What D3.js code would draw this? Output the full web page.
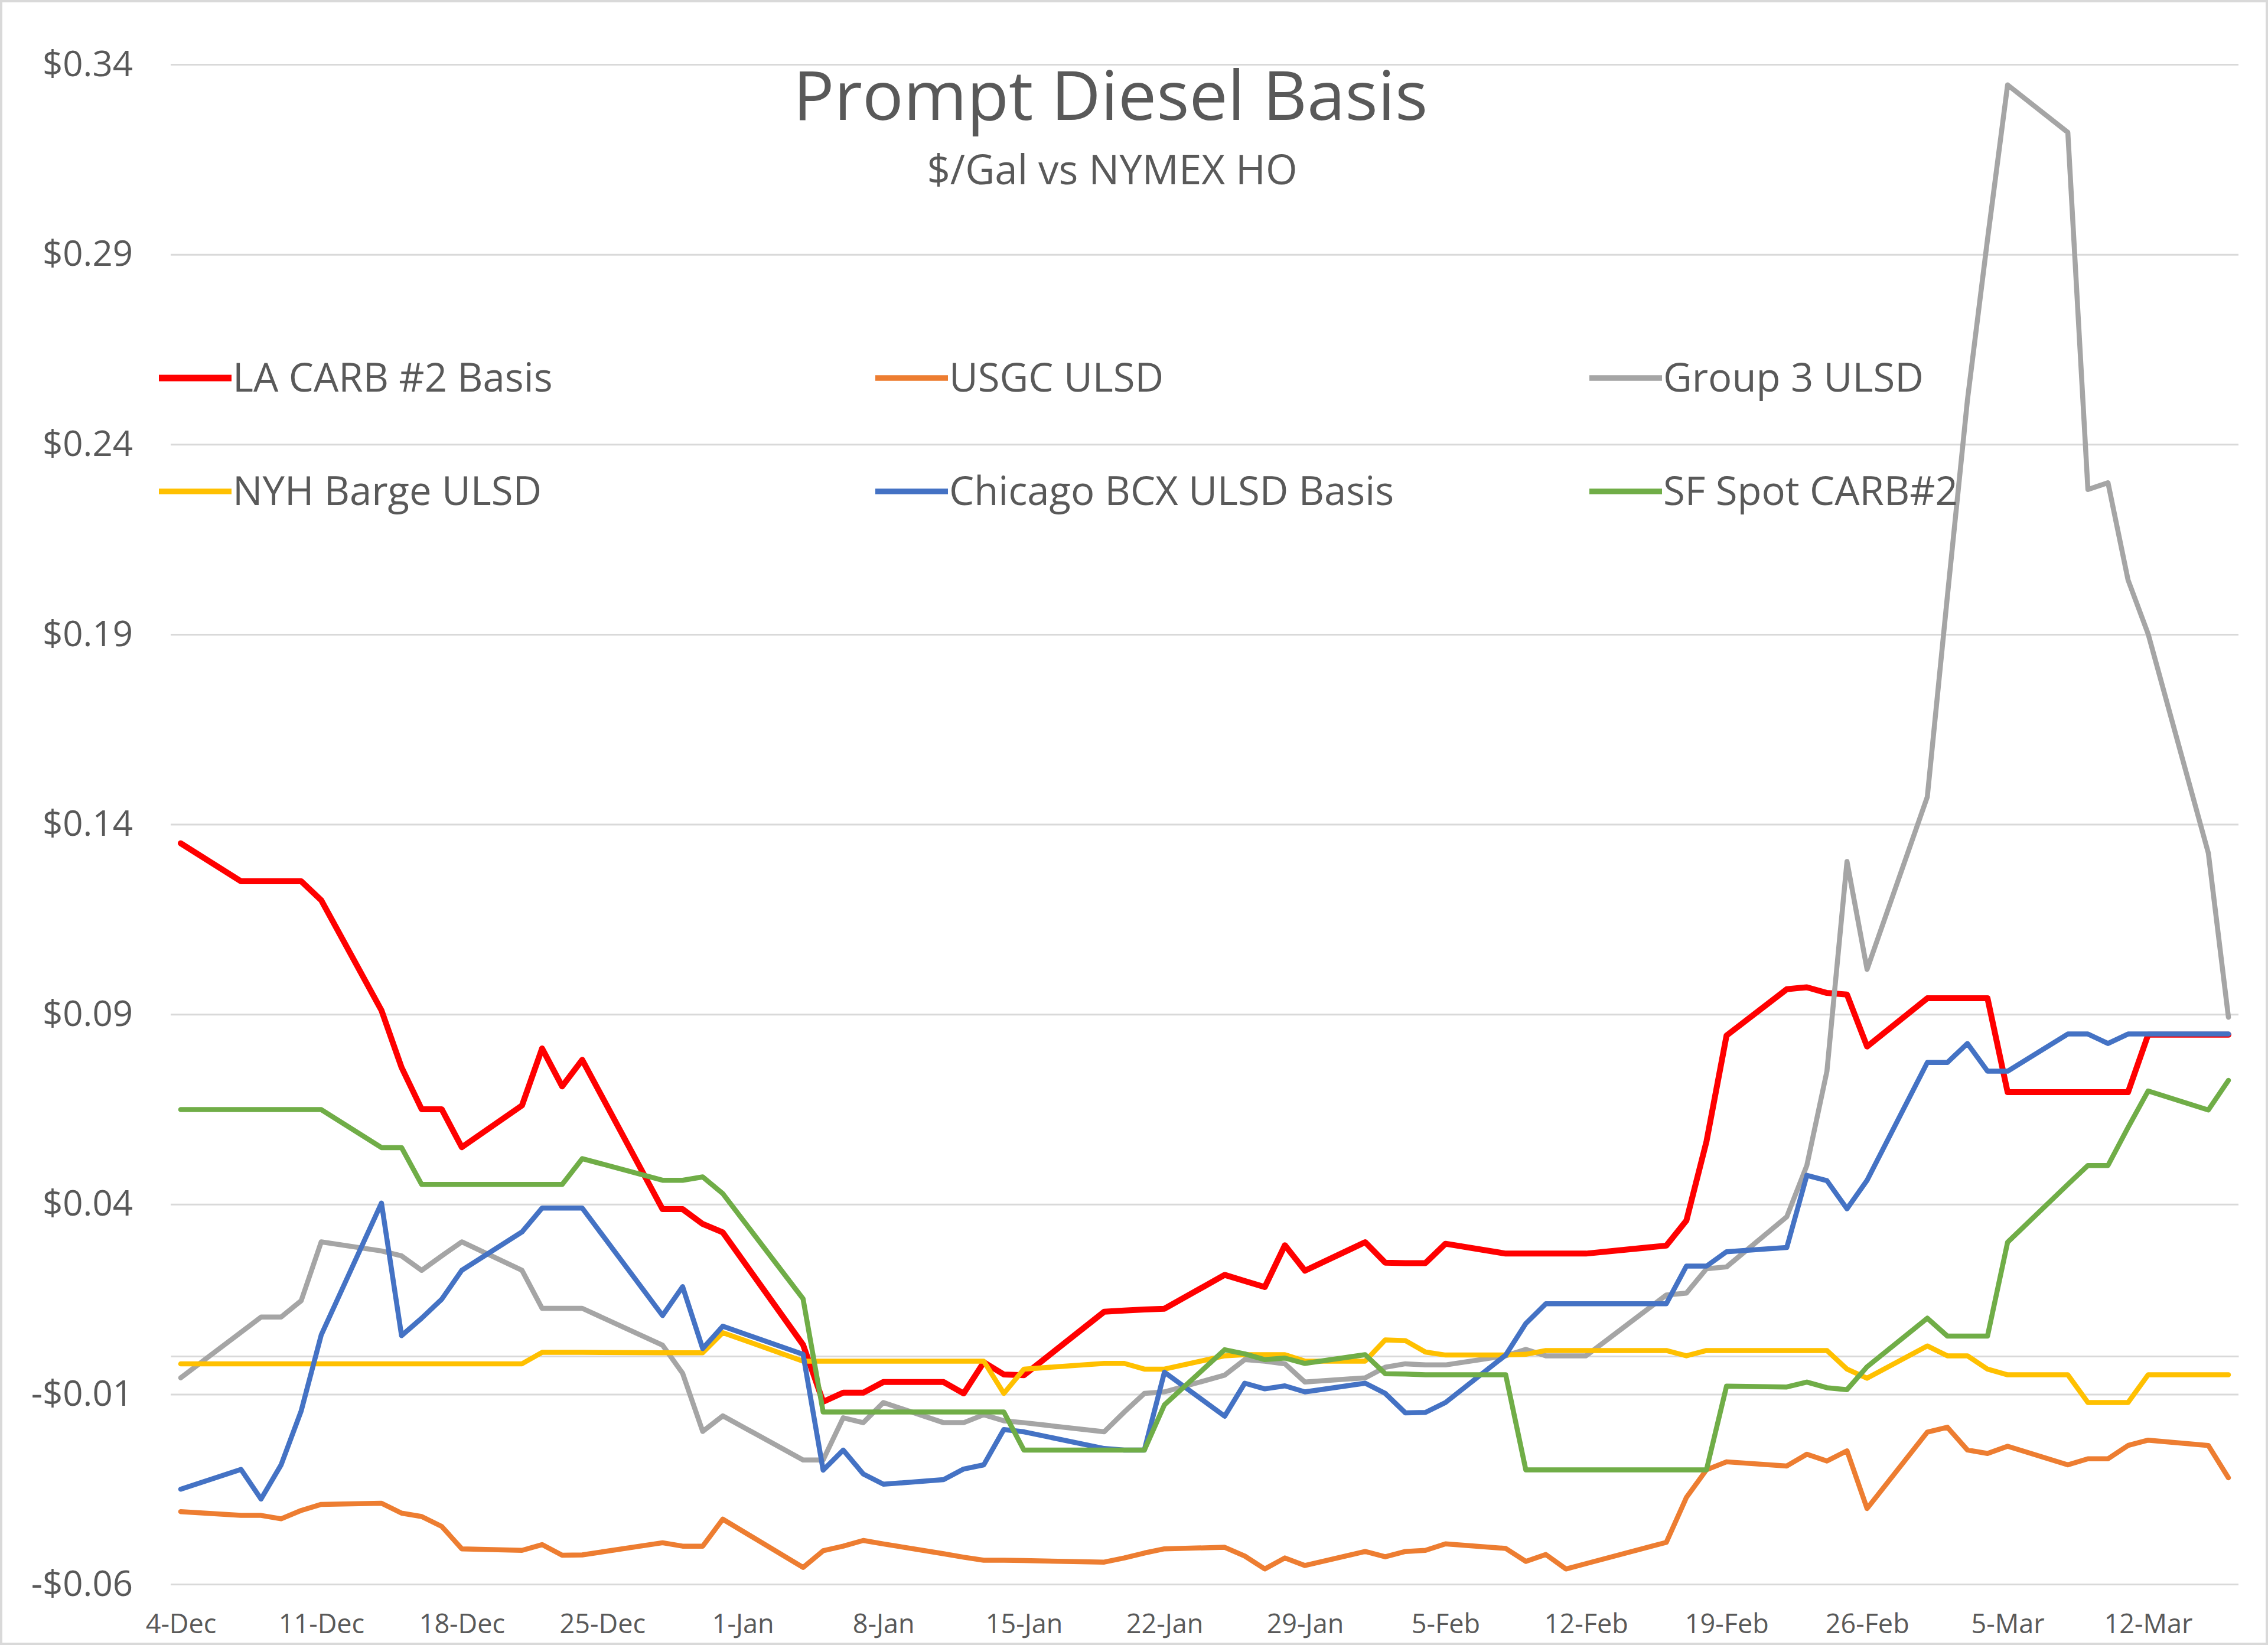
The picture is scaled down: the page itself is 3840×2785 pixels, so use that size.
<!DOCTYPE html>
<html><head><meta charset="utf-8">
<script src="https://cdn.jsdelivr.net/npm/d3@7"></script>
<style>
body{margin:0;background:#fff}
svg{display:block}
text{font-family:"Open Sans","Segoe UI",sans-serif;fill:#595959}
</style>
</head><body>
<svg id="chart" width="3840" height="2785"></svg>
<script>
// ---------------- DATA ----------------
const dates = [
"2020-12-04",
"2020-12-07","2020-12-08","2020-12-09","2020-12-10","2020-12-11",
"2020-12-14","2020-12-15","2020-12-16","2020-12-17","2020-12-18",
"2020-12-21","2020-12-22","2020-12-23","2020-12-24",
"2020-12-28","2020-12-29","2020-12-30","2020-12-31",
"2021-01-04","2021-01-05","2021-01-06","2021-01-07","2021-01-08",
"2021-01-11","2021-01-12","2021-01-13","2021-01-14","2021-01-15",
"2021-01-19","2021-01-20","2021-01-21","2021-01-22",
"2021-01-25","2021-01-26","2021-01-27","2021-01-28","2021-01-29",
"2021-02-01","2021-02-02","2021-02-03","2021-02-04","2021-02-05",
"2021-02-08","2021-02-09","2021-02-10","2021-02-11","2021-02-12",
"2021-02-16","2021-02-17","2021-02-18","2021-02-19",
"2021-02-22","2021-02-23","2021-02-24","2021-02-25","2021-02-26",
"2021-03-01","2021-03-02","2021-03-03","2021-03-04","2021-03-05",
"2021-03-08","2021-03-09","2021-03-10","2021-03-11","2021-03-12",
"2021-03-15","2021-03-16"];

const laCarb = [
0.135,
0.125,0.125,0.125,0.125,0.120,
0.091,0.076,0.065,0.065,0.055,
0.066,0.081,0.071,0.078,
0.0387,0.0387,0.0348,0.0326,
0.003,-0.012,-0.0096,-0.0096,-0.0068,
-0.0068,-0.0098,-0.0016,-0.0048,-0.005,
0.0117,0.012,0.0123,0.0125,
0.0214,0.0198,0.0182,0.0292,0.0225,
0.030,0.0246,0.0245,0.0245,0.0296,
0.027,0.027,0.027,0.027,0.027,
0.0291,0.0357,0.0565,0.0844,
0.0966,0.0971,0.0956,0.0952,0.0815,
0.0942,0.0942,0.0942,0.0942,0.0695,
0.0695,0.0695,0.0695,0.0695,0.0846,
0.0846,0.0846];

const usgc = [
-0.0409,
-0.0419,-0.0419,-0.0428,-0.0406,-0.0390,
-0.0387,-0.0413,-0.0422,-0.0448,-0.0507,
-0.0511,-0.0496,-0.0524,-0.0523,
-0.0491,-0.0500,-0.0500,-0.0429,
-0.0556,-0.0512,-0.0500,-0.0485,-0.0494,
-0.0520,-0.0529,-0.0537,-0.0537,-0.0538,
-0.0542,-0.0531,-0.0518,-0.0507,
-0.0503,-0.0526,-0.0560,-0.0531,-0.0551,
-0.0514,-0.0528,-0.0514,-0.0511,-0.0494,
-0.0506,-0.0540,-0.0522,-0.0560,-0.0546,
-0.0490,-0.0372,-0.0299,-0.0278,
-0.0289,-0.0258,-0.0276,-0.0249,-0.0401,
-0.0200,-0.0187,-0.0247,-0.0256,-0.0237,
-0.0286,-0.0270,-0.0270,-0.0235,-0.0221,
-0.0235,-0.0320];

const group3 = [
-0.0057,
0.0063,0.0103,0.0103,0.0146,0.0301,
0.0277,0.0264,0.0226,0.0264,0.0301,
0.0226,0.0126,0.0126,0.0126,
0.0029,-0.0045,-0.0198,-0.0157,
-0.0273,-0.0273,-0.0162,-0.0175,-0.0122,
-0.0175,-0.0175,-0.0154,-0.0170,-0.0175,
-0.0199,-0.0147,-0.0098,-0.0094,
-0.0050,-0.0009,-0.0013,-0.0020,-0.0068,
-0.0057,-0.0029,-0.0020,-0.0023,-0.0023,
0.0001,0.0018,0.0001,0.0001,0.0001,
0.0161,0.0166,0.0230,0.0235,
0.0367,0.0502,0.0750,0.1302,0.1018,
0.1472,0.2000,0.2517,0.2940,0.3346,
0.3221,0.2281,0.2299,0.2043,0.1901,
0.1324,0.0892];

const nyhBarge = [
-0.0020,
-0.0020,-0.0020,-0.0020,-0.0020,-0.0020,
-0.0020,-0.0020,-0.0020,-0.0020,-0.0020,
-0.0020,0.0010,0.0010,0.0010,
0.0009,0.0009,0.0009,0.0062,
-0.0013,-0.0013,-0.0013,-0.0013,-0.0013,
-0.0013,-0.0013,-0.0013,-0.0098,-0.0034,
-0.0019,-0.0019,-0.0034,-0.0034,
0.0001,0.0004,0.0004,0.0004,-0.0013,
-0.0013,0.0043,0.0041,0.0011,0.0003,
0.0003,0.0005,0.0015,0.0015,0.0015,
0.0015,0.0001,0.0015,0.0015,
0.0015,0.0015,0.0015,-0.0034,-0.0058,
0.0027,0.0001,0.0001,-0.0034,-0.0049,
-0.0049,-0.0122,-0.0122,-0.0122,-0.0049,
-0.0049,-0.0049];

const chicago = [
-0.0350,
-0.0298,-0.0376,-0.0286,-0.0144,0.0056,
0.0403,0.0054,0.0100,0.0150,0.0226,
0.0327,0.0390,0.0390,0.0390,
0.0107,0.0183,0.0020,0.0079,
0.0005,-0.0300,-0.0247,-0.0310,-0.0337,
-0.0325,-0.0297,-0.0286,-0.0193,-0.0199,
-0.0243,-0.0247,-0.0247,-0.0042,
-0.0158,-0.0071,-0.0086,-0.0078,-0.0094,
-0.0071,-0.0098,-0.0149,-0.0148,-0.0122,
0.0003,0.0086,0.0138,0.0138,0.0138,
0.0138,0.0237,0.0237,0.0275,
0.0286,0.0476,0.0462,0.0388,0.0463,
0.0773,0.0773,0.0823,0.0750,0.0750,
0.0848,0.0848,0.0823,0.0848,0.0848,
0.0848,0.0848];

const sfSpot = [
0.0649,
0.0649,0.0649,0.0649,0.0649,0.0649,
0.0549,0.0549,0.0452,0.0452,0.0452,
0.0452,0.0452,0.0452,0.0520,
0.0463,0.0463,0.0472,0.0428,
0.0151,-0.0147,-0.0147,-0.0147,-0.0147,
-0.0147,-0.0147,-0.0147,-0.0147,-0.0247,
-0.0247,-0.0247,-0.0247,-0.0128,
0.0017,0.0006,-0.0009,-0.0005,-0.0019,
0.0004,-0.0046,-0.0047,-0.0049,-0.0049,
-0.0049,-0.0299,-0.0299,-0.0299,-0.0299,
-0.0299,-0.0299,-0.0299,-0.0079,
-0.0081,-0.0068,-0.0083,-0.0088,-0.0028,
0.0100,0.0053,0.0053,0.0053,0.0300,
0.0452,0.0502,0.0502,0.0602,0.0698,
0.0648,0.0726];

const seriesNames = ["LA CARB #2 Basis","USGC ULSD","Group 3 ULSD","NYH Barge ULSD","Chicago BCX ULSD Basis","SF Spot CARB#2"];
const seriesValues = [laCarb, usgc, group3, nyhBarge, chicago, sfSpot];
const seriesColors = ["#FF0000","#ED7D31","#A5A5A5","#FFC000","#4472C4","#70AD47"];

const yTicks = [-0.06,-0.01,0.04,0.09,0.14,0.19,0.24,0.29,0.34];
const xTicks = ["2020-12-04","2020-12-11","2020-12-18","2020-12-25","2021-01-01","2021-01-08","2021-01-15",
"2021-01-22","2021-01-29","2021-02-05","2021-02-12","2021-02-19","2021-02-26","2021-03-05","2021-03-12"];

const titleText = "Prompt Diesel Basis";
const subtitleText = "$/Gal vs NYMEX HO";

// ---------------- DRAW ----------------
const W = 3840, H = 2785;
const parse = d3.utcParse("%Y-%m-%d");
const svg = d3.select("#chart");

svg.append("rect").attr("x",2).attr("y",2).attr("width",W-4).attr("height",H-4)
  .attr("fill","#fff").attr("stroke","#d9d9d9").attr("stroke-width",4);

const plotL = 289, plotR = 3790, plotT = 109, plotB = 2682;
const x = d3.scaleUtc()
  .domain([new Date(Date.UTC(2020,11,3,12)), new Date(Date.UTC(2021,2,16,12))])
  .range([plotL, plotR]);
const y = d3.scaleLinear().domain([-0.06, 0.34]).range([plotB, plotT]);

const fmtY = v => (v < 0 ? "-" : "") + "$" + Math.abs(v).toFixed(2);

// y axis with gridlines
const gy = svg.append("g").attr("transform",`translate(${plotL},0)`)
  .call(d3.axisLeft(y).tickValues(yTicks).tickSize(-(plotR-plotL)).tickPadding(64).tickFormat(fmtY));
gy.select(".domain").remove();
gy.selectAll(".tick line").attr("stroke","#d9d9d9").attr("stroke-width",3);
gy.selectAll(".tick text").attr("font-size",60).attr("fill","#595959")
  .attr("font-family",'"Open Sans","Segoe UI",sans-serif');

// x axis (line at zero)
const gx = svg.append("g").attr("transform",`translate(0,${y(0)})`)
  .call(d3.axisBottom(x).tickValues(xTicks.map(parse)).tickSize(0).tickSizeOuter(0)
    .tickPadding(437).tickFormat(d3.utcFormat("%-d-%b")));
gx.select(".domain").attr("stroke","#d9d9d9").attr("stroke-width",3);
gx.selectAll(".tick text").attr("font-size",45).attr("fill","#595959")
  .attr("font-family",'"Open Sans","Segoe UI",sans-serif');

// series
const parsedDates = dates.map(parse);
const line = d3.line().x(d => x(d[0])).y(d => y(d[1]));
seriesValues.forEach((vals, i) => {
  const pts = parsedDates.map((d, j) => [d, vals[j]]).filter(p => p[1] != null);
  svg.append("path").datum(pts)
    .attr("d", line)
    .attr("fill","none")
    .attr("stroke", seriesColors[i])
    .attr("stroke-width", i === 0 ? 10 : 8.5)
    .attr("stroke-linejoin","round")
    .attr("stroke-linecap","round");
});

// title
svg.append("text").attr("x",1880).attr("y",203).attr("text-anchor","middle")
  .attr("font-size",116).text(titleText);
svg.append("text").attr("x",1883).attr("y",312).attr("text-anchor","middle")
  .attr("font-size",69).text(subtitleText);

// legend
const colX = [269, 1482, 2691];
const rowY = [640, 832];
seriesNames.forEach((name, i) => {
  const cx = colX[i % 3], cy = rowY[Math.floor(i / 3)];
  const g = svg.append("g");
  g.append("line").attr("x1",cx).attr("x2",cx+123).attr("y1",cy).attr("y2",cy)
    .attr("stroke",seriesColors[i]).attr("stroke-width", i === 0 ? 11 : 9.5);
  g.append("text").attr("x",cx+125).attr("y",cy).attr("dy","0.35em")
    .attr("font-size",67).text(name);
});
</script>
</body></html>
